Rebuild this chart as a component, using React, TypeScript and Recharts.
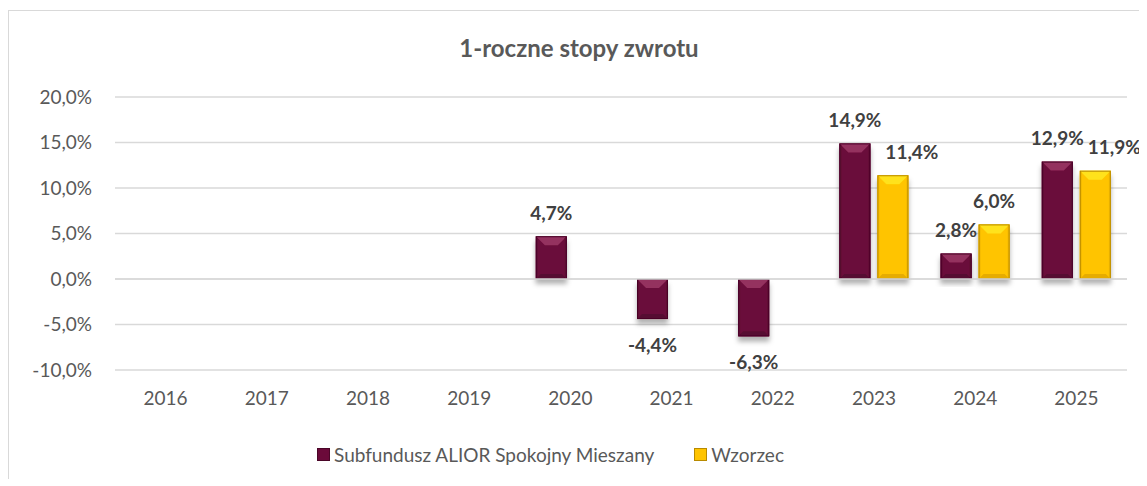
import React from 'react';
import {
  BarChart, Bar, XAxis, YAxis, CartesianGrid, ReferenceLine, Legend, LabelList,
} from 'recharts';

const years = ['2016', '2017', '2018', '2019', '2020', '2021', '2022', '2023', '2024', '2025'];
const fundValues: (number | null)[] = [null, null, null, null, 4.7, -4.4, -6.3, 14.9, 2.8, 12.9];
const benchValues: (number | null)[] = [null, null, null, null, null, null, null, 11.4, 6.0, 11.9];
const yTicks = [-10, -5, 0, 5, 10, 15, 20];

const FUND_NAME = 'Subfundusz ALIOR Spokojny Mieszany';
const BENCH_NAME = 'Wzorzec';

const FONT = 'Lato, "Open Sans", sans-serif';
const TEXT = '#595959';
const LABEL = '#404040';

const data = years.map((y, i) => ({ year: y, fund: fundValues[i], bench: benchValues[i] }));

const fmt = (v: number) => v.toFixed(1).replace('.', ',') + '%';

const PALETTE: Record<string, { base: string; top: string; bottom: string; side: string; edge: string }> = {
  fund: { base: '#6b0a3a', top: '#94325f', bottom: '#560830', side: '#5e0933', edge: '#4a0628' },
  bench: { base: '#ffc400', top: '#ffe21a', bottom: '#e6ac00', side: '#f2b800', edge: '#b88a00' },
};

// bevelled bar, roughly like the office "3D" preset
const bevelShape = (key: string) => (props: any) => {
  const { x, y, width, height } = props;
  if (height == null || width == null) return null;
  const c = PALETTE[key];
  const top = Math.min(y, y + height);
  const h = Math.abs(height);
  const w = width;
  const b = Math.min(9, h / 2, w / 2);
  const bb = Math.min(5, h / 2);
  return (
    <g filter="url(#barShadow)">
      <rect x={x} y={top} width={w} height={h} fill={c.base} />
      <polygon points={`${x},${top} ${x + w},${top} ${x + w - b},${top + b} ${x + b},${top + b}`} fill={c.top} />
      <polygon points={`${x},${top + h} ${x + w},${top + h} ${x + w - bb},${top + h - bb} ${x + bb},${top + h - bb}`} fill={c.bottom} />
      <polygon points={`${x},${top} ${x + 2},${top + 2} ${x + 2},${top + h - 2} ${x},${top + h}`} fill={c.side} />
      <polygon points={`${x + w},${top} ${x + w - 2},${top + 2} ${x + w - 2},${top + h - 2} ${x + w},${top + h}`} fill={c.side} />
      <rect x={x + 0.5} y={top + 0.5} width={w - 1} height={h - 1} fill="none" stroke={c.edge} strokeWidth={1} />
    </g>
  );
};

// label value comes in as { v, other } so the benchmark label knows the fund value
const renderLabel = (props: any) => {
  const { x, y, width, height, value } = props;
  if (value == null || value.v == null) return null;
  const v: number = value.v;
  // benchmark label slides right when it would run into the higher fund label
  const dx = value.other != null && value.other > v ? 19 : 0;
  const cx = x + width / 2 + dx;
  const neg = v < 0;
  const cy = neg ? Math.max(y, y + height) + 26 : Math.min(y, y + height) - 23;
  return (
    <text x={cx} y={cy} dy="0.35em" textAnchor="middle" fill={LABEL}
      fontFamily={FONT} fontSize={19} fontWeight={700}>
      {fmt(v)}
    </text>
  );
};

const renderLegend = () => (
  <div style={{ height: 40, display: 'flex', justifyContent: 'center', alignItems: 'center', fontFamily: FONT, fontSize: 19, color: TEXT, paddingRight: 35 }}>
    <span style={{ display: 'inline-block', width: 11, height: 11, background: PALETTE.fund.base, border: `1px solid ${PALETTE.fund.edge}`, marginRight: 4 }} />
    <span>{FUND_NAME}</span>
    <span style={{ display: 'inline-block', width: 11, height: 11, background: PALETTE.bench.base, border: `1px solid ${PALETTE.bench.edge}`, marginLeft: 40, marginRight: 4 }} />
    <span>{BENCH_NAME}</span>
  </div>
);

const App: React.FC = () => {
  return (
    <div style={{ width: 1139, height: 468, marginTop: 2, borderLeft: '1px solid #d9d9d9', borderTop: '1px solid #d9d9d9', background: '#fff' }}>
      <BarChart
        width={1138}
        height={467}
        data={data}
        margin={{ top: 86, right: 20, left: 0, bottom: 4 }}
        barSize={31}
        barGap={7}
      >
        <defs>
          <filter id="barShadow" x="-30%" y="-30%" width="160%" height="160%">
            <feDropShadow dx={0} dy={5} stdDeviation={2.5} floodColor="#000" floodOpacity={0.3} />
          </filter>
        </defs>
        <text x={570} y={46} textAnchor="middle" fill={TEXT} fontFamily={FONT} fontSize={24} fontWeight={700}>
          1-roczne stopy zwrotu
        </text>
        <CartesianGrid vertical={false} stroke="#d9d9d9" strokeWidth={1.3} />
        <XAxis
          dataKey="year"
          axisLine={false}
          tickLine={false}
          tickSize={0}
          tickMargin={22}
          height={64}
          tick={{ fill: TEXT, fontSize: 19, fontFamily: FONT }}
        />
        <YAxis
          domain={[-10, 20]}
          ticks={yTicks}
          width={106}
          axisLine={false}
          tickLine={false}
          tickSize={0}
          tickMargin={23}
          tickFormatter={(v: number) => fmt(v)}
          tick={{ fill: TEXT, fontSize: 19, fontFamily: FONT }}
        />
        <ReferenceLine y={0} stroke="#d9d9d9" strokeWidth={1.5} />
        <Legend verticalAlign="bottom" height={40} content={renderLegend} />
        <Bar dataKey="fund" name={FUND_NAME} isAnimationActive={false} shape={bevelShape('fund')}>
          <LabelList dataKey={(d: any) => (d.fund == null ? null : { v: d.fund, other: null })} content={renderLabel} />
        </Bar>
        <Bar dataKey="bench" name={BENCH_NAME} isAnimationActive={false} shape={bevelShape('bench')}>
          <LabelList dataKey={(d: any) => (d.bench == null ? null : { v: d.bench, other: d.fund })} content={renderLabel} />
        </Bar>
      </BarChart>
    </div>
  );
};

export default App;
